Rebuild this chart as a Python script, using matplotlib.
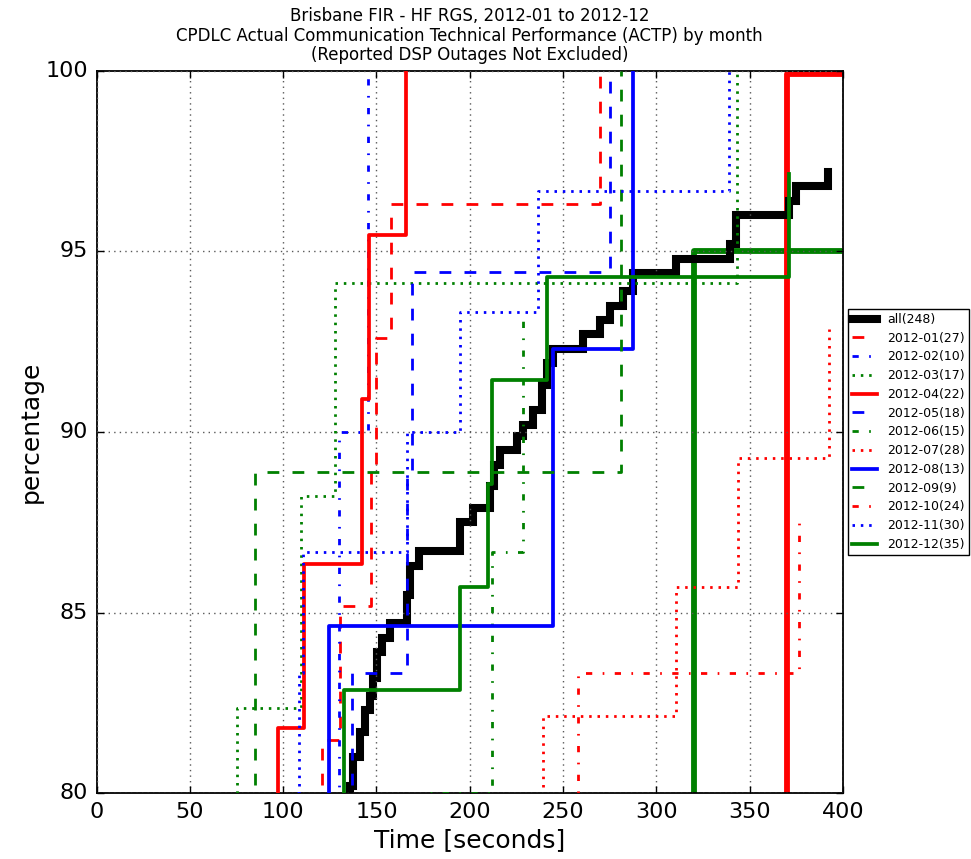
import matplotlib
matplotlib.use("Agg")
import matplotlib.pyplot as plt

plt.style.use("classic")

# Cumulative share of messages (%) delivered within each transit time (s)
all_n = 248
all_t = [120, 136, 137.6, 141, 144, 146.6, 148.3, 150.2, 153, 157.3, 166.2, 168, 173,
         194.8, 201.8, 210.8, 213, 216.2, 225.1, 228.7, 234, 238.5, 241.2, 244.7,
         260.8, 269.9, 275.3, 282.2, 287.6, 310.8, 339.3, 342.9, 371.4, 375, 392]
all_p = [79.4, 80.2, 81.0, 81.7, 82.3, 82.7, 83.2, 83.9, 84.3, 84.7, 85.5, 86.3, 86.7,
         87.5, 87.9, 88.5, 89.1, 89.5, 89.9, 90.2, 90.6, 91.3, 91.9, 92.3,
         92.7, 93.1, 93.5, 93.9, 94.4, 94.8, 95.2, 96.0, 96.4, 96.8, 97.2]

months = ["2012-01", "2012-02", "2012-03", "2012-04", "2012-05", "2012-06",
          "2012-07", "2012-08", "2012-09", "2012-10", "2012-11", "2012-12"]
month_n = [27, 10, 17, 22, 18, 15, 28, 13, 9, 24, 30, 35]

m01_t = [100, 120.7, 130.7, 147, 150, 158, 270]
m01_p = [77.78, 81.48, 85.19, 88.89, 92.59, 96.30, 100]
m02_t = [100, 129.5, 130, 145.3]
m02_p = [70, 80, 90, 100]
m03_t = [60, 75.2, 109.5, 127.8, 343.4]
m03_p = [76.47, 82.35, 88.24, 94.12, 100]
m04_t = [90, 97, 111, 142, 146, 166]
m04_p = [77.27, 81.82, 86.36, 90.91, 95.45, 100]
m05_t = [100, 136.7, 166.5, 168.9, 275.1]
m05_p = [77.78, 83.33, 88.89, 94.44, 100]
m06_t = [150, 175, 212, 228.7]
m06_p = [73.33, 80, 86.67, 93.33]
m07_t = [230, 239.5, 310.8, 343.8, 392.5]
m07_p = [78.57, 82.14, 85.71, 89.29, 92.86]
m08_t = [100, 124.8, 244.9, 287.5]
m08_p = [76.92, 84.62, 92.31, 100]
m09_t = [60, 85, 281.3]
m09_p = [77.78, 88.89, 100]
m10_t = [250, 258.2, 376.3]
m10_p = [79.17, 83.33, 87.5]
m11_t = [100, 108, 108.3, 110.6, 166.5, 194.6, 236.8, 339]
m11_p = [76.67, 80, 83.33, 86.67, 90, 93.33, 96.67, 100]
m12_t = [100, 132.6, 194.8, 210, 212, 241.5, 371.4]
m12_p = [77.14, 82.86, 85.71, 88.57, 91.43, 94.29, 97.14]

# ACTP requirement: time (s) by which the given share (%) must be reached
req_t = [320, 370]
req_p = [95, 99.9]
req_colors = ["g", "r"]

x_min, x_max = 0, 400
y_min, y_max = 80, 100

DASHED = (0, (8.5, 9.5))
DASHDOT = (0, (4.5, 7.5, 1.2, 7.5))
DOTTED = (0, (1.8, 4.2))

series = [
    (m01_t, m01_p, "r", DASHED, 2.0),
    (m02_t, m02_p, "b", DASHDOT, 2.0),
    (m03_t, m03_p, "g", DOTTED, 2.0),
    (m04_t, m04_p, "r", "-", 2.7),
    (m05_t, m05_p, "b", DASHED, 2.0),
    (m06_t, m06_p, "g", DASHDOT, 2.0),
    (m07_t, m07_p, "r", DOTTED, 2.0),
    (m08_t, m08_p, "b", "-", 2.7),
    (m09_t, m09_p, "g", DASHED, 2.0),
    (m10_t, m10_p, "r", DASHDOT, 2.0),
    (m11_t, m11_p, "b", DOTTED, 2.0),
    (m12_t, m12_p, "g", "-", 2.7),
]

fig = plt.figure(figsize=(9.71, 8.59), dpi=100, facecolor="white")
ax = fig.add_axes([0.0995, 0.0765, 0.7685, 0.8412])
ax.set_facecolor("white")

# requirement markers
for t, p, c in zip(req_t, req_p, req_colors):
    ax.plot([t, t, x_max], [y_min - 5, p, p], color=c, lw=4.2,
            solid_capstyle="butt", zorder=1)

handles = []
h_all, = ax.plot(all_t, all_p, drawstyle="steps-post", color="k", lw=5.8,
                 solid_joinstyle="miter", zorder=2, label="all(%d)" % all_n)
handles.append(h_all)
for (t, p, c, ls, lw), name, n in zip(series, months, month_n):
    h, = ax.plot(t, p, drawstyle="steps-post", color=c, linestyle=ls, lw=lw,
                 dash_capstyle="butt", zorder=3, label="%s(%d)" % (name, n))
    handles.append(h)

ax.set_xlim(x_min, x_max)
ax.set_ylim(y_min, y_max)
ax.set_xticks(range(0, 401, 50))
ax.set_yticks(range(80, 101, 5))
ax.grid(True, color="0.35", linestyle=":", linewidth=1.0)
ax.tick_params(axis="both", direction="in", length=5, width=1, labelsize=16,
               top=True, right=True, pad=6)
for s in ax.spines.values():
    s.set_linewidth(1.3)

ax.set_xlabel("Time [seconds]", fontsize=18, labelpad=5)
ax.set_ylabel("percentage", fontsize=18, labelpad=2)
ax.set_title("Brisbane FIR - HF RGS, 2012-01 to 2012-12\n"
             "CPDLC Actual Communication Technical Performance (ACTP) by month\n"
             "(Reported DSP Outages Not Excluded)",
             fontsize=12, linespacing=1.12, pad=7.5)

leg = ax.legend(handles=handles, loc="center left", bbox_to_anchor=(1.007, 0.5),
                fontsize=9, frameon=True, fancybox=False, shadow=False,
                borderaxespad=0, handlelength=2.0, handletextpad=0.75,
                labelspacing=0.46, borderpad=0.35, numpoints=1)
leg.get_frame().set_edgecolor("k")
leg.get_frame().set_linewidth(1.0)

fig.savefig("out.png", dpi=100, facecolor="white")
